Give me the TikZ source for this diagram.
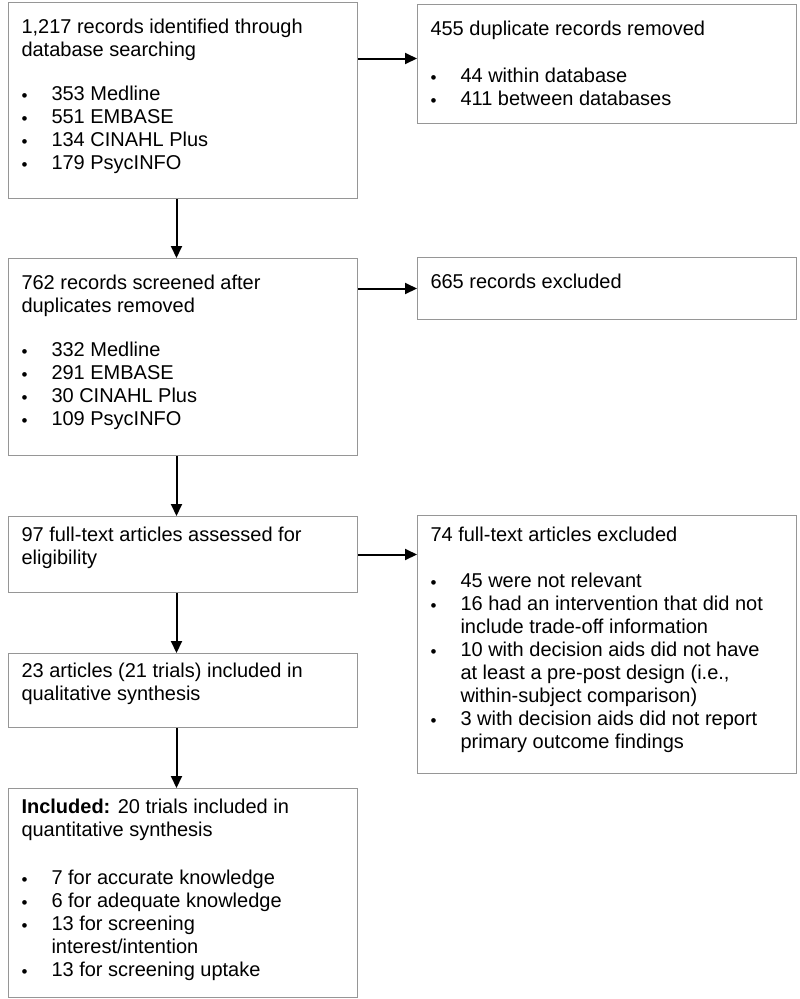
\documentclass[tikz,border=0pt]{standalone}
\usepackage{fontspec}
\setmainfont{Liberation Sans}
\usepackage{tikz}
\usetikzlibrary{arrows.meta}
\definecolor{boxgray}{RGB}{150,150,150}
\tikzset{box/.style={draw=boxgray, line width=1pt, anchor=north west, inner xsep=13pt, inner ysep=0pt,
  font=\fontsize{20}{23}\selectfont}}
\tikzset{flow/.style={-{Triangle[length=12pt,width=11pt]}, line width=2pt}}
\newcommand{\boxbody}[4]{\parbox[t][#1pt][t]{#2pt}{\raggedright\rule{0pt}{#3pt}#4}}
\newcommand{\bul}{\makebox[30pt][l]{\hspace{0pt}\raisebox{-0.5pt}{\fontsize{17}{17}\selectfont\textbullet}}}
\newcommand{\cont}{\hspace*{30pt}}

\begin{document}
\begin{tikzpicture}[x=1pt,y=-1pt]
\useasboundingbox (0,0) rectangle (800,999);

% left column
\node[box] (ident) at (8,2) {\boxbody{196}{323}{31}{1,217 records identified through\\
database searching\\[21pt]
\bul 353 Medline\\
\bul 551 EMBASE\\
\bul 134 CINAHL Plus\\
\bul 179 PsycINFO}};

\node[box] (screened) at (8,258) {\boxbody{197}{323}{31}{762 records screened after\\
duplicates removed\\[21pt]
\bul 332 Medline\\
\bul 291 EMBASE\\
\bul 30 CINAHL Plus\\
\bul 109 PsycINFO}};

\node[box] (fulltext) at (8,516) {\boxbody{76}{323}{25}{97 full-text articles assessed for\\
eligibility}};

\node[box] (qual) at (8,653) {\boxbody{74}{323}{24}{23 articles (21 trials) included in\\
qualitative synthesis}};

\node[box] (quant) at (8,788) {\boxbody{209}{323}{25}{\textbf{Included:} 20 trials included in\\
quantitative synthesis\\[25pt]
\bul 7 for accurate knowledge\\
\bul 6 for adequate knowledge\\
\bul 13 for screening\\
\cont interest/intention\\
\bul 13 for screening uptake}};

% right column
\node[box] (dups) at (417,4) {\boxbody{119}{353}{31}{455 duplicate records removed\\[24pt]
\bul 44 within database\\
\bul 411 between databases}};

\node[box] (excl) at (417,257) {\boxbody{62}{353}{31}{665 records excluded}};

\node[box] (ftexcl) at (417,515) {\boxbody{258}{353}{26}{74 full-text articles excluded\\[23pt]
\bul 45 were not relevant\\
\bul 16 had an intervention that did not\\
\cont include trade-off information\\
\bul 10 with decision aids did not have\\
\cont at least a pre-post design (i.e.,\\
\cont within-subject comparison)\\
\bul 3 with decision aids did not report\\
\cont primary outcome findings}};

% arrows
\coordinate (col) at (176.5,0);
\draw[flow] (ident.south -| col) -- (screened.north -| col);
\draw[flow] (screened.south -| col) -- (fulltext.north -| col);
\draw[flow] (fulltext.south -| col) -- (qual.north -| col);
\draw[flow] (qual.south -| col) -- (quant.north -| col);

\draw[flow] ([yshift=5.5pt]dups.west -| ident.east) -- ([yshift=5.5pt]dups.west);
\draw[flow] (excl.west -| screened.east) -- (excl.west);
\draw[flow] (fulltext.east) -- (fulltext.east -| ftexcl.west);
\end{tikzpicture}
\end{document}
